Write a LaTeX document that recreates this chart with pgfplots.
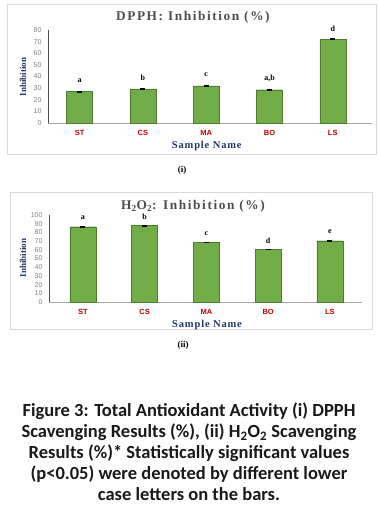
\documentclass[border=0pt]{standalone}
\usepackage{fontspec}
\setmainfont{Liberation Serif}
\newfontfamily\sansf{Liberation Sans}
\newfontfamily\calfont{Carlito}
\usepackage{pgfplots}
\pgfplotsset{compat=1.18}
\definecolor{bargreen}{HTML}{70AD47}
\definecolor{baredge}{HTML}{4E7A31}
\definecolor{navy}{HTML}{1F3864}
\definecolor{tickred}{HTML}{C00000}
\definecolor{titlegray}{HTML}{4D4D4D}
\definecolor{boxgray}{HTML}{D9D9D9}
\pgfplotsset{
  mychart/.style={
    scale only axis,
    clip=false,
    bar width=26pt,
    axis x line*=bottom,
    axis y line*=left,
    axis line style={-},
    x axis line style={draw=gray!70, line width=0.6pt},
    y axis line style={draw=black!70, line width=0.8pt},
    major tick length=0pt,
    ymin=0,
    xtick={0,1,2,3,4},
    xticklabels={ST,CS,MA,BO,LS},
    xticklabel style={font=\sansf\bfseries\fontsize{7.5}{8}\selectfont, text=tickred, yshift=-4pt},
    yticklabel style={font=\sansf\fontsize{7}{8}\selectfont, text=gray, xshift=-3pt},
    /pgf/number format/assume math mode=true,
    every axis title/.style={anchor=center},
    title style={font=\bfseries\fontsize{13.3}{15}\selectfont\addfontfeature{LetterSpace=12}, text=titlegray},
    xlabel style={font=\bfseries\fontsize{10.5}{12}\selectfont\addfontfeature{LetterSpace=8}, text=navy, anchor=center},
    ylabel style={font=\bfseries\fontsize{9}{10}\selectfont, text=navy, anchor=center},
    xlabel={Sample Name},
    ylabel={Inhibition},
  },
  mybars/.style={
    ybar, bar shift=0pt, fill=bargreen, draw=baredge, line width=0.4pt,
    error bars/.cd, y dir=both, y explicit,
    error bar style={black, line width=0.9pt},
    error mark options={rotate=90, mark size=2.5pt, black, line width=0.9pt},
  },
  mylabels/.style={
    draw=none, mark=none, nodes near coords, point meta=explicit symbolic,
    nodes near coords style={anchor=center, font=\bfseries\fontsize{8}{9}\selectfont, text=black},
  },
}
\begin{document}
\begin{tikzpicture}[x=1pt,y=1pt]
\useasboundingbox (0,0) rectangle (378,513);
% frames
\draw[boxgray, line width=1pt] (7,508) rectangle (376,358);
\draw[boxgray, line width=1pt] (10,320) rectangle (372,183);

% chart (i)
\begin{axis}[mychart,
  at={(48pt,390pt)}, anchor=south west,
  width=324pt, height=93pt,
  xmin=-0.5, xmax=4.62, ymax=80,
  ytick={0,10,...,80},
  title={DPPH: Inhibition (\%)},
  title style={at={(axis description cs:0.447,1.14)}},
  xlabel style={at={(axis description cs:0.49,-0.247)}},
  ylabel style={at={(axis description cs:-0.077,0.495)}},
]
\addplot[mybars] coordinates {
  (0,27.1) +- (0,0.4)
  (1,29.4) +- (0,0.4)
  (2,32.0) +- (0,0.4)
  (3,28.6) +- (0,0.4)
  (4,72.0) +- (0,0.4)
};
\addplot[mylabels, nodes near coords style={yshift=11pt}] coordinates {
  (0,27.1) [a]
  (1,29.4) [b]
  (2,32.0) [c]
  (3,28.6) [{a,b}]
  (4,72.0) [d]
};
\end{axis}
\node[font=\bfseries\fontsize{9}{10}\selectfont] at (182,343) {(i)};

% chart (ii)
\begin{axis}[mychart,
  at={(49pt,211pt)}, anchor=south west,
  width=313pt, height=87pt,
  xmin=-0.55, xmax=4.52, ymax=100,
  ytick={0,10,...,100},
  title={H\textsubscript{2}O\textsubscript{2}: Inhibition (\%)},
  title style={at={(axis description cs:0.46,1.10)}},
  xlabel style={at={(axis description cs:0.505,-0.264)}},
  ylabel style={at={(axis description cs:-0.083,0.506)}},
]
\addplot[mybars] coordinates {
  (0,86.5) +- (0,0.5)
  (1,87.7) +- (0,0.5)
  (2,68.5) +- (0,0.5)
  (3,60.4) +- (0,0.5)
  (4,70.4) +- (0,0.5)
};
\addplot[mylabels, nodes near coords style={yshift=9pt}] coordinates {
  (0,86.5) [a]
  (1,87.7) [b]
  (2,68.5) [c]
  (3,60.4) [d]
  (4,70.4) [e]
};
\end{axis}
\node[font=\bfseries\fontsize{9}{10}\selectfont] at (183,168) {(ii)};

% caption
\node[align=center, font=\calfont\bfseries\fontsize{18.5}{21}\selectfont, text=black!90] at (189,61) {%
Figure 3: Total Antioxidant Activity (i) DPPH\\
Scavenging Results (\%), (ii) H\textsubscript{2}O\textsubscript{2} Scavenging\\
Results (\%)* Statistically significant values\\
(p<0.05) were denoted by different lower\\
case letters on the bars.};
\end{tikzpicture}
\end{document}
